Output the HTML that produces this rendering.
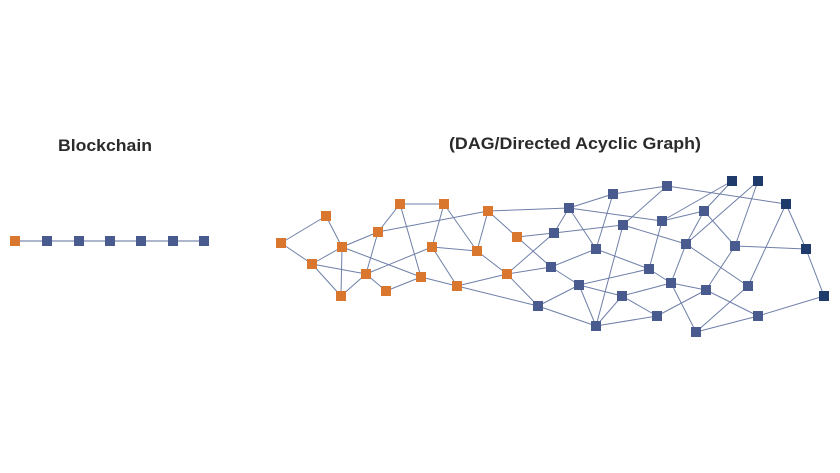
<!DOCTYPE html>
<html><head><meta charset="utf-8"><style>
html,body{margin:0;padding:0;background:#fff;}
svg{display:block;}
</style></head><body>
<svg width="840" height="473" viewBox="0 0 840 473" xmlns="http://www.w3.org/2000/svg">
<rect width="840" height="473" fill="#fff"/>
<text x="58" y="151" font-family="Liberation Sans, sans-serif" font-weight="bold" font-size="17" fill="#2b2b2b" textLength="94" lengthAdjust="spacingAndGlyphs">Blockchain</text>
<text x="449" y="149" font-family="Liberation Sans, sans-serif" font-weight="bold" font-size="17" fill="#2b2b2b" textLength="252" lengthAdjust="spacingAndGlyphs">(DAG/Directed Acyclic Graph)</text>
<line x1="15" y1="241" x2="204" y2="241" stroke="#7d8bb0" stroke-width="1.2"/>
<g id="edges" stroke="#6f7fa8" stroke-width="1"></g>
<g id="nodes"></g>
<script>
var N={O1:[281,243],O2:[326,216],O3:[342,247],O4:[312,264],O5:[341,296],O6:[366,274],O7:[386,291],O8:[378,232],O9:[400,204],O10:[444,204],O11:[432,247],O12:[421,277],O13:[477,251],O14:[488,211],O15:[517,237],O16:[507,274],O17:[457,286],
B1:[569,208],B2:[613,194],B3:[667,186],D1:[732,181],D2:[758,181],D3:[786,204],B4:[554,233],B5:[623,225],B6:[662,221],B7:[704,211],B8:[596,249],B9:[686,244],B10:[735,246],D4:[806,249],B11:[551,267],B12:[649,269],B13:[579,285],B14:[671,283],B15:[748,286],B16:[622,296],B17:[706,290],D5:[824,296],B18:[538,306],B19:[657,316],B20:[758,316],B21:[596,326],B22:[696,332]};
var E="O1-O2 O1-O4 O2-O3 O3-O4 O3-O8 O3-O5 O3-O12 O4-O6 O4-O5 O5-O6 O6-O7 O6-O8 O6-O11 O7-O12 O8-O9 O8-O14 O9-O10 O9-O12 O10-O11 O10-O13 O11-O13 O11-O17 O12-O17 O13-O14 O14-O15 O14-B1 O15-B4 O15-B11 O16-B4 O17-O16 O16-B11 O13-O16 O16-B18 O17-B18 B1-B2 B1-B4 B1-B8 B1-B6 B2-B3 B2-B8 B3-D3 D1-B6 D1-B7 B5-B3 D2-B9 D2-B10 D3-D4 D3-B15 B4-B5 B5-B9 B5-B21 B6-B7 B6-B12 B7-B9 B7-B10 B8-B12 B8-B11 B9-B14 B9-B15 B10-D4 B10-B17 B11-B13 B12-B13 B12-B14 B13-B21 B16-B14 B16-B19 B16-B21 B17-B20 B17-B19 B17-B14 B15-B22 D5-D4 D5-B20 B18-B13 B18-B21 B19-B21 B20-B22 B14-B22 B13-B16".split(" ");
var ns="http://www.w3.org/2000/svg",ge=document.getElementById("edges"),gn=document.getElementById("nodes");
E.forEach(function(e){var p=e.split("-"),a=N[p[0]],b=N[p[1]];var l=document.createElementNS(ns,"line");l.setAttribute("x1",a[0]);l.setAttribute("y1",a[1]);l.setAttribute("x2",b[0]);l.setAttribute("y2",b[1]);ge.appendChild(l);});
function sq(x,y,c){var r=document.createElementNS(ns,"rect");r.setAttribute("x",x-5);r.setAttribute("y",y-5);r.setAttribute("width",10);r.setAttribute("height",10);r.setAttribute("fill",c);gn.appendChild(r);}
for(var k in N){var c=k[0]=="O"?"#d9772e":(k[0]=="D"?"#1f3b6b":"#485a8e");sq(N[k][0],N[k][1],c);}
[15,47,79,110,141,173,204].forEach(function(x,i){sq(x,241,i==0?"#d9772e":"#485a8e");});
</script>
</svg>
</body></html>
